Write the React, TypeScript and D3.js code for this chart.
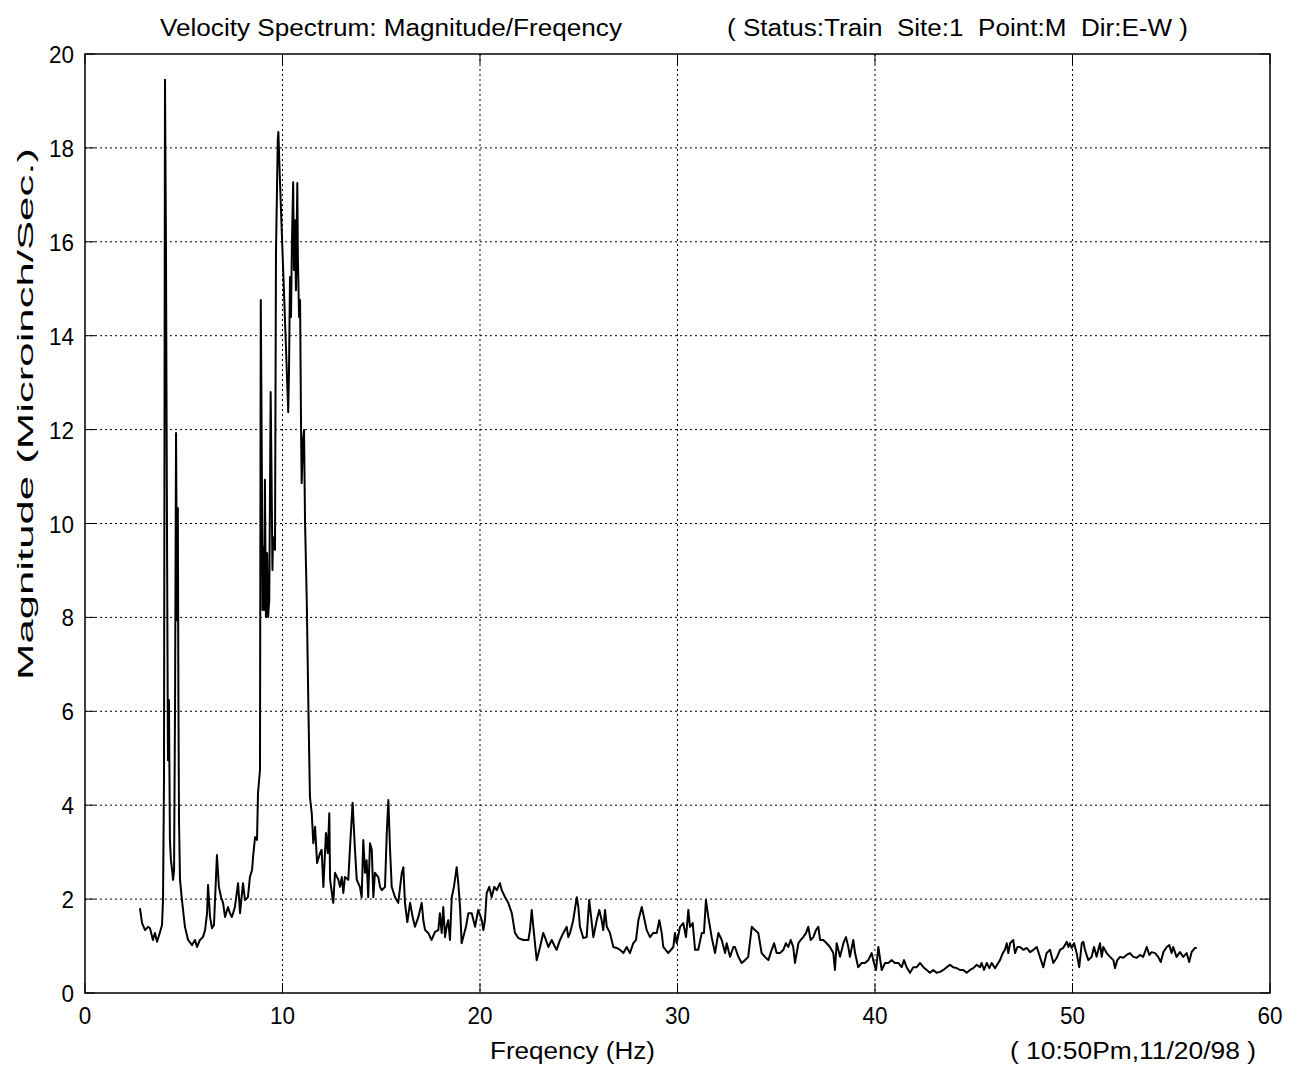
import React from "react";
import * as d3 from "d3";

// Velocity spectrum samples: frequency (Hz) and magnitude (microinch/sec)
const freqHz: number[] = [
  2.78, 2.89, 3.04, 3.19, 3.29, 3.44, 3.54, 3.65, 3.8, 3.9, 3.95, 4.0, 4.05, 4.1, 4.15, 4.2, 4.25, 4.3, 4.35, 4.41,
  4.46, 4.51, 4.56, 4.61, 4.66, 4.7, 4.73, 4.76, 4.81, 4.91, 5.06, 5.22, 5.42, 5.57, 5.67, 5.82, 5.97, 6.08, 6.18, 6.23,
  6.33, 6.43, 6.53, 6.68, 6.78, 6.89, 6.99, 7.09, 7.24, 7.34, 7.44, 7.59, 7.75, 7.85, 8.0, 8.1, 8.25, 8.35, 8.46, 8.51,
  8.61, 8.71, 8.76, 8.86, 8.9, 8.95, 8.99, 9.03, 9.07, 9.11, 9.16, 9.22, 9.27, 9.33, 9.4, 9.45, 9.49, 9.52, 9.62, 9.67,
  9.76, 9.79, 9.82, 9.87, 9.97, 10.08, 10.18, 10.29, 10.33, 10.38, 10.43, 10.48, 10.54, 10.58, 10.63, 10.68, 10.75, 10.78, 10.84, 10.89,
  10.94, 10.97, 11.04, 11.09, 11.14, 11.23, 11.31, 11.39, 11.48, 11.56, 11.65, 11.75, 11.9, 11.98, 12.07, 12.2, 12.29, 12.37,
  12.41, 12.57, 12.66, 12.83, 12.91, 13.0, 13.08, 13.16, 13.33, 13.42, 13.55, 13.67, 13.76, 13.92, 14.01, 14.09, 14.18, 14.26,
  14.34, 14.43, 14.52, 14.6, 14.68, 14.85, 14.94, 15.02, 15.19, 15.28, 15.36, 15.44, 15.53, 15.7, 15.86, 16.04, 16.12, 16.2,
  16.32, 16.46, 16.59, 16.71, 16.88, 17.05, 17.13, 17.22, 17.38, 17.55, 17.72, 17.89, 17.97, 18.06, 18.14, 18.23, 18.31, 18.39,
  18.48, 18.57, 18.68, 18.82, 18.9, 18.99, 19.07, 19.15, 19.29, 19.41, 19.58, 19.75, 19.91, 20.09, 20.17, 20.25, 20.34, 20.47,
  20.59, 20.72, 20.85, 21.01, 21.1, 21.27, 21.43, 21.61, 21.77, 21.94, 22.19, 22.45, 22.53, 22.62, 22.7, 22.87, 23.04, 23.2,
  23.34, 23.46, 23.63, 23.8, 23.88, 24.05, 24.22, 24.39, 24.47, 24.56, 24.72, 24.9, 24.98, 25.06, 25.23, 25.4, 25.53, 25.66,
  25.74, 25.91, 26.04, 26.16, 26.24, 26.33, 26.42, 26.58, 26.75, 26.92, 27.09, 27.26, 27.43, 27.59, 27.76, 27.9, 28.02, 28.19,
  28.3, 28.44, 28.61, 28.77, 28.95, 29.08, 29.2, 29.28, 29.53, 29.79, 29.87, 29.96, 30.13, 30.29, 30.43, 30.55, 30.63, 30.77,
  30.89, 31.05, 31.23, 31.34, 31.44, 31.56, 31.73, 31.9, 32.07, 32.24, 32.41, 32.49, 32.66, 32.83, 32.91, 33.08, 33.25, 33.42,
  33.58, 33.76, 33.92, 34.09, 34.26, 34.43, 34.6, 34.77, 34.89, 35.02, 35.19, 35.36, 35.49, 35.61, 35.73, 35.86, 35.95, 36.12,
  36.24, 36.37, 36.51, 36.62, 36.74, 36.88, 37.01, 37.13, 37.22, 37.38, 37.55, 37.72, 37.89, 37.97, 38.06, 38.23, 38.4, 38.53,
  38.65, 38.73, 38.9, 38.99, 39.15, 39.33, 39.49, 39.66, 39.83, 39.91, 40.05, 40.17, 40.34, 40.51, 40.67, 40.85, 41.01, 41.18,
  41.35, 41.47, 41.6, 41.77, 41.94, 42.11, 42.28, 42.45, 42.62, 42.78, 42.95, 43.12, 43.29, 43.46, 43.63, 43.8, 43.96, 44.14,
  44.3, 44.47, 44.64, 44.81, 44.98, 45.15, 45.32, 45.4, 45.52, 45.66, 45.79, 45.91, 46.08, 46.24, 46.33, 46.47, 46.58, 46.67,
  46.75, 46.84, 47.0, 47.09, 47.21, 47.34, 47.51, 47.68, 47.85, 48.02, 48.19, 48.35, 48.52, 48.69, 48.86, 49.03, 49.2, 49.37,
  49.53, 49.71, 49.79, 49.87, 49.96, 50.08, 50.21, 50.34, 50.47, 50.55, 50.63, 50.8, 50.97, 51.09, 51.22, 51.39, 51.48, 51.56,
  51.73, 51.9, 52.07, 52.15, 52.27, 52.41, 52.57, 52.74, 52.91, 53.08, 53.25, 53.42, 53.58, 53.76, 53.89, 54.01, 54.18, 54.34,
  54.47, 54.6, 54.77, 54.9, 55.02, 55.1, 55.27, 55.44, 55.61, 55.78, 55.91, 56.03, 56.2, 56.29,
];

const magnitude: number[] = [
  1.81, 1.49, 1.34, 1.41, 1.38, 1.13, 1.28, 1.09, 1.3, 1.45, 1.98, 4.54, 19.45, 15.83, 10.07, 4.96, 6.24, 3.26, 2.83, 2.62,
  2.41, 2.62, 6.24, 11.93, 7.94, 10.33, 6.24, 3.68, 2.41, 1.98, 1.41, 1.13, 1.02, 1.13, 0.98, 1.13, 1.19, 1.34, 1.7, 2.3,
  1.62, 1.38, 1.45, 2.94, 2.26, 2.04, 1.92, 1.62, 1.83, 1.7, 1.62, 1.83, 2.34, 1.7, 2.34, 1.98, 2.04, 2.47, 2.62, 2.9,
  3.32, 3.26, 4.26, 4.75, 14.76, 11.5, 8.16, 9.5, 8.16, 10.93, 8.01, 9.37, 8.01, 8.37, 12.8, 10.86, 9.01, 9.71, 9.44, 15.76,
  18.17, 18.34, 17.96, 17.32, 16.14, 14.87, 13.7, 12.37, 13.27, 15.25, 14.4, 16.04, 17.27, 15.4, 16.46, 14.97, 17.25, 15.61, 14.4, 14.76,
  11.99, 10.86, 11.78, 11.99, 10.07, 8.31, 6.09, 4.17, 3.83, 3.19, 3.54, 2.77, 2.98, 3.05, 2.26, 3.41, 2.98, 3.83,
  2.41, 1.92, 2.56, 2.41, 2.26, 2.47, 2.13, 2.47, 2.41, 3.11, 4.05, 3.05, 2.41, 2.26, 2.04, 3.26, 2.56, 2.83,
  2.04, 3.19, 3.05, 2.04, 2.56, 2.47, 2.26, 2.19, 2.26, 3.41, 4.11, 3.11, 2.26, 2.04, 1.92, 2.56, 2.68, 1.92,
  1.51, 1.92, 1.62, 1.41, 1.62, 1.92, 1.55, 1.34, 1.28, 1.13, 1.3, 1.34, 1.7, 1.28, 1.83, 1.19, 1.41, 1.55,
  1.13, 2.04, 2.26, 2.68, 2.34, 1.83, 1.06, 1.19, 1.41, 1.7, 1.7, 1.41, 1.77, 1.55, 1.34, 1.55, 2.13, 2.26,
  2.04, 2.26, 2.19, 2.34, 2.19, 2.04, 1.92, 1.7, 1.28, 1.17, 1.13, 1.13, 1.34, 1.77, 1.41, 0.7, 0.98, 1.28,
  1.13, 0.98, 1.13, 0.98, 0.92, 1.13, 1.28, 1.41, 1.19, 1.28, 1.55, 2.04, 1.83, 1.41, 1.17, 1.19, 1.98, 1.49,
  1.19, 1.55, 1.77, 1.55, 1.34, 1.77, 1.41, 1.28, 0.98, 0.96, 0.92, 0.85, 0.98, 0.85, 1.06, 1.13, 1.55, 1.83,
  1.62, 1.34, 1.19, 1.28, 1.28, 1.55, 1.28, 0.98, 0.85, 0.98, 1.28, 1.06, 1.41, 1.49, 1.19, 1.77, 1.41, 1.49,
  0.92, 0.92, 1.28, 1.28, 1.98, 1.62, 1.19, 0.85, 1.28, 1.13, 0.85, 1.06, 0.77, 0.98, 0.98, 0.77, 0.64, 0.7,
  0.77, 1.41, 1.34, 1.28, 0.85, 0.77, 0.7, 0.92, 1.06, 0.85, 0.85, 0.92, 1.06, 0.98, 1.13, 0.98, 0.64, 1.06,
  1.13, 1.19, 1.28, 1.41, 1.13, 1.19, 1.34, 1.41, 1.13, 1.13, 1.06, 0.98, 0.85, 0.49, 1.06, 0.77, 1.06, 1.19,
  0.98, 0.77, 1.13, 0.85, 0.55, 0.64, 0.64, 0.7, 0.85, 0.7, 0.49, 0.98, 0.49, 0.64, 0.64, 0.7, 0.64, 0.64,
  0.55, 0.7, 0.55, 0.43, 0.55, 0.55, 0.64, 0.55, 0.49, 0.43, 0.49, 0.43, 0.45, 0.49, 0.55, 0.6, 0.55, 0.53,
  0.49, 0.49, 0.43, 0.49, 0.53, 0.6, 0.55, 0.64, 0.49, 0.64, 0.53, 0.64, 0.53, 0.64, 0.7, 0.85, 0.92, 1.06,
  0.85, 1.06, 1.13, 0.85, 0.98, 0.98, 0.92, 0.96, 0.87, 0.92, 0.98, 0.77, 0.55, 0.85, 0.92, 0.64, 0.75, 0.92,
  0.96, 1.09, 0.98, 1.06, 0.96, 1.06, 0.85, 0.55, 1.06, 1.09, 0.92, 0.7, 0.77, 0.98, 0.77, 1.06, 0.77, 0.98,
  0.85, 0.77, 0.7, 0.53, 0.7, 0.77, 0.75, 0.81, 0.85, 0.77, 0.75, 0.81, 0.77, 0.98, 0.81, 0.87, 0.85, 0.77,
  0.66, 0.87, 0.98, 1.02, 0.85, 0.98, 0.77, 0.87, 0.77, 0.85, 0.66, 0.87, 0.96, 0.96,
];

const xTicks: number[] = [0, 10, 20, 30, 40, 50, 60];
const yTicks: number[] = [0, 2, 4, 6, 8, 10, 12, 14, 16, 18, 20];

const titleLeft = "Velocity Spectrum: Magnitude/Freqency";
const titleRight = "( Status:Train  Site:1  Point:M  Dir:E-W )";
const xLabel = "Freqency (Hz)";
const yLabel = "Magnitude (Microinch/Sec.)";
const timeStamp = "( 10:50Pm,11/20/98 )";

const W = 1307;
const H = 1068;
const plot = { left: 85, right: 1270, top: 54, bottom: 993 };
const FONT = "'Liberation Sans', Arial, Helvetica, sans-serif";

export default function App() {
  const x = d3.scaleLinear().domain([0, 60]).range([plot.left, plot.right]);
  const y = d3.scaleLinear().domain([0, 20]).range([plot.bottom, plot.top]);

  const line = d3
    .line<number>()
    .x((_, i) => x(freqHz[i]))
    .y((d) => y(d));
  const pathD = line(magnitude) ?? "";

  const tickLen = 10;
  const gridDash = "2,3";
  const digitW = 12.5;

  return (
    <svg
      width={W}
      height={H}
      viewBox={`0 0 ${W} ${H}`}
      style={{ position: "absolute", left: 0, top: 0, background: "#fff" }}
      fontFamily={FONT}
    >
      <rect x={0} y={0} width={W} height={H} fill="#fff" />

      {/* dotted grid */}
      {xTicks.slice(1, -1).map((t) => (
        <line
          key={`gx${t}`}
          x1={x(t)}
          x2={x(t)}
          y1={plot.top}
          y2={plot.bottom}
          stroke="#000"
          strokeWidth={1}
          strokeDasharray={gridDash}
        />
      ))}
      {yTicks.slice(1, -1).map((t) => (
        <line
          key={`gy${t}`}
          x1={plot.left}
          x2={plot.right}
          y1={y(t)}
          y2={y(t)}
          stroke="#000"
          strokeWidth={1}
          strokeDasharray={gridDash}
        />
      ))}

      {/* inward ticks on all four sides */}
      {xTicks.map((t) => (
        <g key={`tx${t}`} stroke="#000" strokeWidth={1}>
          <line x1={x(t)} x2={x(t)} y1={plot.bottom} y2={plot.bottom - tickLen} />
          <line x1={x(t)} x2={x(t)} y1={plot.top} y2={plot.top + tickLen} />
        </g>
      ))}
      {yTicks.map((t) => (
        <g key={`ty${t}`} stroke="#000" strokeWidth={1}>
          <line x1={plot.left} x2={plot.left + tickLen} y1={y(t)} y2={y(t)} />
          <line x1={plot.right} x2={plot.right - tickLen} y1={y(t)} y2={y(t)} />
        </g>
      ))}

      {/* plot frame */}
      <rect
        x={plot.left}
        y={plot.top}
        width={plot.right - plot.left}
        height={plot.bottom - plot.top}
        fill="none"
        stroke="#000"
        strokeWidth={1.5}
      />

      {/* spectrum trace */}
      <path d={pathD} fill="none" stroke="#000" strokeWidth={2} strokeLinejoin="round" />

      {/* tick labels */}
      {xTicks.map((t) => (
        <text
          key={`lx${t}`}
          x={x(t)}
          y={1024}
          fontSize={24}
          textAnchor="middle"
          fill="#000"
          textLength={String(t).length * digitW}
          lengthAdjust="spacingAndGlyphs"
        >
          {t}
        </text>
      ))}
      {yTicks.map((t) => (
        <text
          key={`ly${t}`}
          x={74}
          y={y(t) + 9}
          fontSize={24}
          textAnchor="end"
          fill="#000"
          textLength={String(t).length * digitW}
          lengthAdjust="spacingAndGlyphs"
        >
          {t}
        </text>
      ))}

      {/* titles and axis labels */}
      <text x={160} y={36} fontSize={23} fill="#000" textLength={462} lengthAdjust="spacingAndGlyphs">
        {titleLeft}
      </text>
      <text
        x={727}
        y={36}
        fontSize={23}
        fill="#000"
        textLength={461}
        lengthAdjust="spacingAndGlyphs"
        style={{ whiteSpace: "pre" }}
      >
        {titleRight}
      </text>
      <text x={490} y={1059} fontSize={23} fill="#000" textLength={165} lengthAdjust="spacingAndGlyphs">
        {xLabel}
      </text>
      <text x={1010} y={1059} fontSize={23} fill="#000" textLength={246} lengthAdjust="spacingAndGlyphs">
        {timeStamp}
      </text>
      <text
        transform="translate(33,414) rotate(-90)"
        fontSize={22}
        textAnchor="middle"
        fill="#000"
        textLength={532}
        lengthAdjust="spacingAndGlyphs"
      >
        {yLabel}
      </text>
    </svg>
  );
}
